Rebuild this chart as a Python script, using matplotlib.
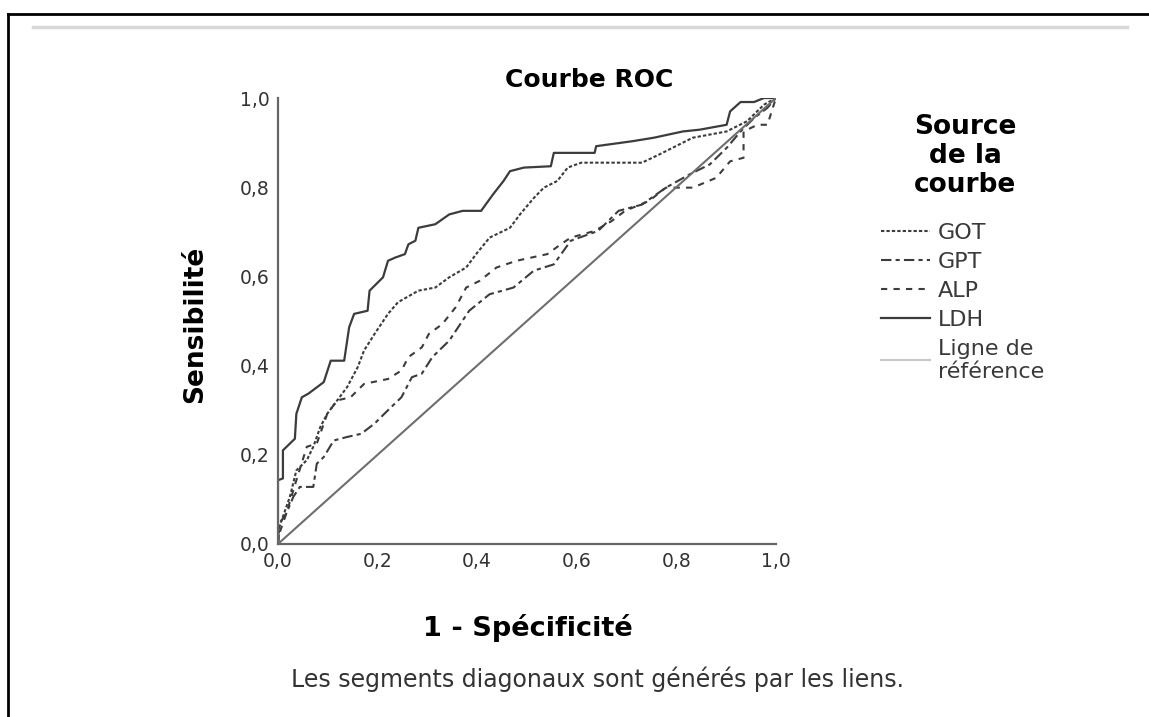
import matplotlib.pyplot as plt
from matplotlib.lines import Line2D

plt.rcParams['font.family'] = ['DejaVu Sans']

# courbes ROC (1 - spécificité, sensibilité)
ldh_x = [0, 0, 0.01, 0.01, 0.034, 0.037, 0.048, 0.061, 0.092, 0.106, 0.133, 0.143, 0.153, 0.18, 0.184,
         0.211, 0.221, 0.235, 0.255, 0.262, 0.276, 0.282, 0.316, 0.344, 0.371, 0.408, 0.432, 0.453,
         0.466, 0.494, 0.548, 0.554, 0.636, 0.639, 0.711, 0.755, 0.813, 0.847, 0.901, 0.908, 0.929,
         0.956, 0.976, 1.0]
ldh_y = [0, 0.143, 0.147, 0.21, 0.236, 0.292, 0.329, 0.337, 0.363, 0.411, 0.411, 0.486, 0.516, 0.523,
         0.568, 0.598, 0.635, 0.642, 0.65, 0.672, 0.68, 0.709, 0.717, 0.739, 0.747, 0.747, 0.784, 0.814,
         0.836, 0.844, 0.847, 0.877, 0.877, 0.892, 0.903, 0.911, 0.925, 0.929, 0.94, 0.97, 0.991,
         0.991, 1.0, 1.0]

got_x = [0, 0.003, 0.024, 0.037, 0.058, 0.071, 0.085, 0.099, 0.119, 0.139, 0.16, 0.173, 0.194, 0.221,
         0.241, 0.282, 0.316, 0.344, 0.378, 0.398, 0.425, 0.466, 0.486, 0.514, 0.534, 0.561, 0.582,
         0.609, 0.731, 0.765, 0.833, 0.901, 0.942, 0.976, 1.0]
got_y = [0, 0.039, 0.106, 0.165, 0.188, 0.218, 0.262, 0.292, 0.322, 0.352, 0.396, 0.434, 0.471, 0.516,
         0.542, 0.568, 0.575, 0.598, 0.62, 0.65, 0.687, 0.709, 0.739, 0.776, 0.799, 0.814, 0.844,
         0.855, 0.855, 0.873, 0.911, 0.925, 0.948, 0.985, 1.0]

gpt_x = [0, 0.003, 0.017, 0.031, 0.044, 0.071, 0.078, 0.092, 0.112, 0.139, 0.167, 0.194, 0.221, 0.248,
         0.269, 0.289, 0.31, 0.344, 0.384, 0.425, 0.473, 0.514, 0.554, 0.588, 0.643, 0.684, 0.731,
         0.779, 0.827, 0.867, 0.901, 0.929, 0.956, 0.983, 1.0]
gpt_y = [0, 0.046, 0.069, 0.106, 0.128, 0.128, 0.18, 0.195, 0.232, 0.24, 0.247, 0.27, 0.3, 0.329,
         0.374, 0.382, 0.419, 0.456, 0.523, 0.56, 0.575, 0.613, 0.627, 0.68, 0.702, 0.747, 0.761,
         0.799, 0.829, 0.851, 0.888, 0.925, 0.955, 0.978, 1.0]

alp_x = [0, 0.003, 0.017, 0.037, 0.058, 0.078, 0.099, 0.119, 0.146, 0.173, 0.221, 0.248, 0.262, 0.289,
         0.303, 0.33, 0.357, 0.378, 0.405, 0.439, 0.479, 0.541, 0.568, 0.588, 0.636, 0.67, 0.697,
         0.745, 0.779, 0.833, 0.88, 0.908, 0.935, 0.935, 0.963, 0.983, 1.0]
alp_y = [0, 0.024, 0.069, 0.143, 0.218, 0.225, 0.292, 0.322, 0.329, 0.359, 0.37, 0.389, 0.419, 0.441,
         0.471, 0.493, 0.531, 0.575, 0.59, 0.62, 0.635, 0.65, 0.672, 0.687, 0.702, 0.724, 0.747,
         0.769, 0.799, 0.799, 0.821, 0.858, 0.866, 0.925, 0.94, 0.94, 1.0]

x_ticks = [0, 0.2, 0.4, 0.6, 0.8, 1.0]
tick_labels = ['0,0', '0,2', '0,4', '0,6', '0,8', '1,0']

fig = plt.figure(figsize=(11.49, 7.17), dpi=100)
ax = fig.add_axes([0.2419, 0.2413, 0.4334, 0.622])

c = '#3c3c3c'
ax.plot(got_x, got_y, color=c, lw=1.5, linestyle=(0, (1.6, 1.0)))
ax.plot(gpt_x, gpt_y, color=c, lw=1.5, linestyle=(0, (5, 2, 2, 2)))
ax.plot(alp_x, alp_y, color=c, lw=1.5, linestyle=(0, (3, 3)))
ax.plot(ldh_x, ldh_y, color=c, lw=1.6)
ax.plot([0, 1], [0, 1], color='#6e6e6e', lw=1.5)

ax.set_xlim(0, 1)
ax.set_ylim(0, 1)
ax.set_xticks(x_ticks)
ax.set_xticklabels(tick_labels)
ax.set_yticks(x_ticks)
ax.set_yticklabels(tick_labels)
ax.tick_params(length=0, labelsize=13.5, colors='#333333', pad=6)
for s in ['top', 'right']:
    ax.spines[s].set_visible(False)
for s in ['left', 'bottom']:
    ax.spines[s].set_color('#666666')
    ax.spines[s].set_linewidth(1.6)

fig.text(0.513, 0.889, 'Courbe ROC', fontsize=18, fontweight='bold', ha='center', va='center')
fig.text(0.170, 0.547, 'Sensibilité', fontsize=19, fontweight='bold', rotation=90, ha='center', va='center')
fig.text(0.459, 0.124, '1 - Spécificité', fontsize=19.5, fontweight='bold', ha='center', va='center')
fig.text(0.52, 0.052, 'Les segments diagonaux sont générés par les liens.', fontsize=17,
         color='#333333', ha='center', va='center')

# légende : titre séparé puis les entrées
fig.text(0.840, 1 - 114 / 717, 'Source\nde la\ncourbe', fontsize=19, fontweight='bold', ha='center',
         va='top', multialignment='center', linespacing=1.15)
handles = [
    Line2D([], [], color=c, lw=1.5, linestyle=(0, (1.6, 1.0))),
    Line2D([], [], color=c, lw=1.5, linestyle=(0, (5, 2, 2, 2))),
    Line2D([], [], color=c, lw=1.5, linestyle=(0, (3, 3))),
    Line2D([], [], color=c, lw=1.6),
    Line2D([], [], color='#c8c8c8', lw=1.5),
]
labels = ['GOT', 'GPT', 'ALP', 'LDH', 'Ligne de\nréférence']
leg = fig.legend(handles, labels, loc='upper left', bbox_to_anchor=(0.757, 1 - 212 / 717), frameon=False,
                 fontsize=16, handlelength=2.2, handletextpad=0.35, labelspacing=0.4, borderpad=0)
for t in leg.get_texts():
    t.set_color('#3a3a3a')
    t.set_linespacing(1.2)

# cadre et ligne grise du haut
fig.add_artist(Line2D([8 / 1149, 8 / 1149], [0, 1 - 14 / 717], transform=fig.transFigure, color='black', lw=2))
fig.add_artist(Line2D([8 / 1149, 1], [1 - 14 / 717, 1 - 14 / 717], transform=fig.transFigure, color='black', lw=2))
fig.add_artist(Line2D([33 / 1149, 1127 / 1149], [1 - 27 / 717, 1 - 27 / 717], transform=fig.transFigure,
                      color='#d8d8d8', lw=2.5))

fig.savefig('out.png', dpi=100)
